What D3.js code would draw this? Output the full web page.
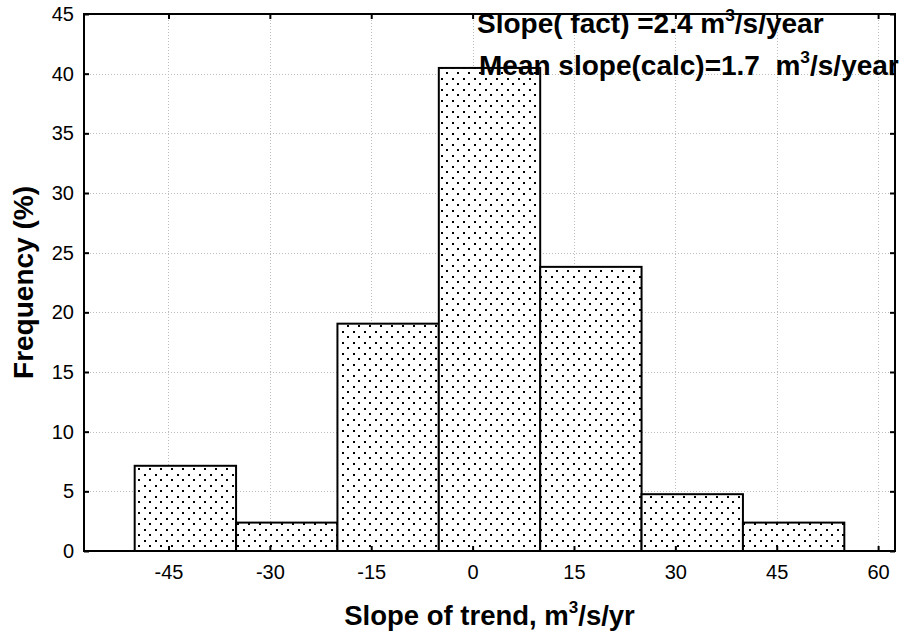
<!DOCTYPE html>
<html>
<head>
<meta charset="utf-8">
<script src="https://cdn.jsdelivr.net/npm/d3@7"></script>
<style>
  html, body { margin: 0; padding: 0; background: #fff; }
  svg { display: block; font-family: "Liberation Sans", Arial, sans-serif; }
</style>
</head>
<body>
<svg id="chart" width="899" height="633"></svg>
<script>
// Histogram of trend slopes: bin edges and frequency (%) per bin
const binLower = [-50, -35, -20, -5, 10, 25, 40];
const binUpper = [-35, -20, -5, 10, 25, 40, 55];
const frequency = [7.14, 2.38, 19.05, 40.48, 23.81, 4.76, 2.38];

const xTicks = [-45, -30, -15, 0, 15, 30, 45, 60];
const yTicks = [0, 5, 10, 15, 20, 25, 30, 35, 40, 45];

const xDomain = [-57.5, 62.5];
const yDomain = [0, 45];

const svg = d3.select("#chart");
const plot = { left: 84, right: 895, top: 14, bottom: 551 };

const x = d3.scaleLinear().domain(xDomain).range([plot.left, plot.right]);
const y = d3.scaleLinear().domain(yDomain).range([plot.bottom, plot.top]);

// Dotted fill pattern for the bars
const defs = svg.append("defs");
const pat = defs.append("pattern")
  .attr("id", "dots")
  .attr("patternUnits", "userSpaceOnUse")
  .attr("width", 11).attr("height", 11);
pat.append("rect").attr("width", 11).attr("height", 11).attr("fill", "#fff");
pat.append("rect").attr("x", 1).attr("y", 1).attr("width", 2).attr("height", 2).attr("fill", "#000");
pat.append("rect").attr("x", 6).attr("y", 6).attr("width", 2).attr("height", 2).attr("fill", "#000");

// Grid lines
const grid = svg.append("g").attr("stroke", "#bdbdbd").attr("stroke-width", 1)
  .attr("stroke-dasharray", "1,2");
grid.selectAll("line.gx").data(xTicks).join("line")
  .attr("x1", d => Math.round(x(d)) + 0.5).attr("x2", d => Math.round(x(d)) + 0.5)
  .attr("y1", plot.top).attr("y2", plot.bottom);
grid.selectAll("line.gy").data(yTicks.slice(1, -1)).join("line")
  .attr("x1", plot.left).attr("x2", plot.right)
  .attr("y1", d => Math.round(y(d)) + 0.5).attr("y2", d => Math.round(y(d)) + 0.5);

// Bars
const bins = binLower.map((lo, i) => ({ lo, hi: binUpper[i], v: frequency[i] }));
svg.append("g").selectAll("rect").data(bins).join("rect")
  .attr("x", d => x(d.lo))
  .attr("y", d => y(d.v))
  .attr("width", d => x(d.hi) - x(d.lo))
  .attr("height", d => y(0) - y(d.v))
  .attr("fill", "url(#dots)")
  .attr("stroke", "#000")
  .attr("stroke-width", 2);

// Axes: ticks pointing inward on all four sides of the frame
const tickLen = 5;
const plain = d => String(d);
const axisBottom = d3.axisBottom(x).tickValues(xTicks).tickSize(-tickLen).tickPadding(14).tickFormat(plain);
const axisTop = d3.axisTop(x).tickValues(xTicks).tickSize(-tickLen).tickFormat("");
const axisLeft = d3.axisLeft(y).tickValues(yTicks).tickSize(-tickLen).tickPadding(10).tickFormat(plain);
const axisRight = d3.axisRight(y).tickValues(yTicks).tickSize(-tickLen).tickFormat("");

function styleAxis(g) {
  g.select(".domain").remove();
  g.selectAll(".tick line").attr("stroke", "#000").attr("stroke-width", 2);
  g.selectAll(".tick text").attr("fill", "#000").attr("font-size", 20)
    .attr("font-family", "'Liberation Sans', Arial, sans-serif");
}
svg.append("g").attr("transform", `translate(0,${plot.bottom})`).call(axisBottom).call(styleAxis);
svg.append("g").attr("transform", `translate(0,${plot.top})`).call(axisTop).call(styleAxis);
svg.append("g").attr("transform", `translate(${plot.left},0)`).call(axisLeft).call(styleAxis);
svg.append("g").attr("transform", `translate(${plot.right},0)`).call(axisRight).call(styleAxis);

// Frame
svg.append("rect")
  .attr("x", plot.left).attr("y", plot.top)
  .attr("width", plot.right - plot.left).attr("height", plot.bottom - plot.top)
  .attr("fill", "none").attr("stroke", "#000").attr("stroke-width", 2);

// Text with a superscript "3" after the given prefix
function supText(g, prefix, suffix, size) {
  g.append("tspan").text(prefix);
  g.append("tspan").attr("dy", -size * 0.42).attr("font-size", size * 0.62).text("3");
  g.append("tspan").attr("dy", size * 0.42).text(suffix);
}

// Annotations
const ann1 = svg.append("text").attr("x", 477).attr("y", 33)
  .attr("font-size", 28).attr("font-weight", "bold").style("white-space", "pre");
supText(ann1, "Slope( fact) =2.4 m", "/s/year", 28);
const ann2 = svg.append("text").attr("x", 479).attr("y", 75)
  .attr("font-size", 28).attr("font-weight", "bold").style("white-space", "pre");
supText(ann2, "Mean slope(calc)=1.7  m", "/s/year", 28);

// Axis titles
const xt = svg.append("text").attr("x", (plot.left + plot.right) / 2).attr("y", 625)
  .attr("text-anchor", "middle").attr("font-size", 27.5).attr("font-weight", "bold");
supText(xt, "Slope of trend, m", "/s/yr", 27.5);

svg.append("text")
  .attr("transform", `translate(33,${(plot.top + plot.bottom) / 2}) rotate(-90)`)
  .attr("text-anchor", "middle").attr("font-size", 28).attr("font-weight", "bold")
  .text("Frequency (%)");
</script>
</body>
</html>
